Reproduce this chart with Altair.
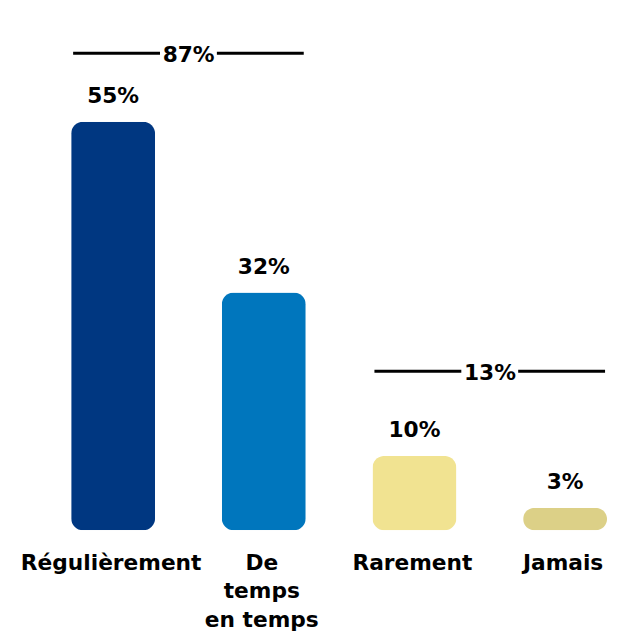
import altair as alt
import pandas as pd

# ---- data ----
categories = ["Régulièrement", "De temps en temps", "Rarement", "Jamais"]
labels = ["Régulièrement", "De\ntemps\nen temps", "Rarement", "Jamais"]
values = [55, 32, 10, 3]
colors = ["#003781", "#0076bd", "#f1e391", "#dcd087"]
group_totals = [87, 13]
group_members = [["Régulièrement", "De temps en temps"], ["Rarement", "Jamais"]]

# ---- style ----
FONT = "DejaVu Sans"
FS = 22
bracket_gap = [9.2, 11.4]  # distance (in value units) above the tallest bar of each group

bars_df = pd.DataFrame({
    "cat": categories,
    "label": labels,
    "value": values,
    "text": [f"{v}%" for v in values],
})

rows = []
for total, members, gap in zip(group_totals, group_members, bracket_gap):
    top = max(values[categories.index(m)] for m in members)
    for i, m in enumerate(members):
        rows.append({"cat": m, "level": top + gap, "pos": i, "text": f"{total}%"})
br_df = pd.DataFrame(rows)

xscale = alt.Scale(domain=categories, paddingInner=0.443, paddingOuter=0)
yscale = alt.Scale(domain=[0, 69.75], nice=False, zero=True)

X = alt.X("cat:N", scale=xscale, axis=None)
Y = alt.Y("value:Q", scale=yscale, axis=None)

base = alt.Chart(bars_df)

bars = base.mark_bar(cornerRadius=12).encode(
    x=X, y=Y,
    color=alt.Color("cat:N", scale=alt.Scale(domain=categories, range=colors), legend=None),
)

value_text = base.mark_text(
    baseline="alphabetic", dy=-19, font=FONT, fontSize=FS, fontWeight="bold", color="#000000"
).encode(x=X, y=Y, text="text:N")

cat_text = base.mark_text(
    baseline="alphabetic", dy=40, dx=-2, font=FONT, fontSize=FS, fontWeight="bold",
    color="#000000", lineBreak="\n", lineHeight=29
).encode(x=X, y=alt.Y(datum=0, scale=yscale, axis=None), text="label:N")

br = alt.Chart(br_df)
rule_left = br.transform_filter("datum.pos == 0").mark_rule(
    strokeWidth=3, color="#000000", x2Offset=5, xOffset=2
).encode(
    x=alt.X("cat:N", scale=xscale, axis=None, bandPosition=0),
    x2=alt.X2("cat", bandPosition=1),
    y=alt.Y("level:Q", scale=yscale, axis=None),
)
rule_right = br.transform_filter("datum.pos == 1").mark_rule(
    strokeWidth=3, color="#000000", xOffset=-5, x2Offset=-2
).encode(
    x=alt.X("cat:N", scale=xscale, axis=None, bandPosition=0),
    x2=alt.X2("cat", bandPosition=1),
    y=alt.Y("level:Q", scale=yscale, axis=None),
)
total_text = br.transform_filter("datum.pos == 0").mark_text(
    baseline="alphabetic", dy=8.5, dx=34, font=FONT, fontSize=FS, fontWeight="bold", color="#000000"
).encode(
    x=alt.X("cat:N", scale=xscale, axis=None, bandPosition=1),
    y=alt.Y("level:Q", scale=yscale, axis=None),
    text="text:N",
)

chart = alt.layer(bars, value_text, cat_text, rule_left, rule_right, total_text).properties(
    width=543,
    height=525,
    padding={"left": 64, "right": 2, "top": 0, "bottom": 103},
    autosize="none",
    background="white",
).configure_view(stroke=None)

chart.save("out.html", embed_options={"renderer": "svg", "actions": False})
